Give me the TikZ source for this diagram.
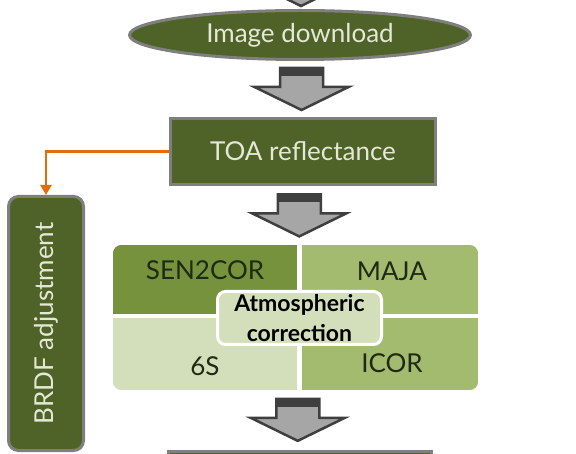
\documentclass[tikz,border=0pt]{standalone}
\usepackage{fontspec}
\setmainfont{Lato}
\usetikzlibrary{shapes.geometric,arrows.meta,calc}

\definecolor{olivedark}{HTML}{4F6228}
\definecolor{olivemid}{HTML}{76923C}
\definecolor{olivelight}{HTML}{A2BB6E}
\definecolor{olivepale}{HTML}{D3DFBA}
\definecolor{boxgray}{HTML}{7F7F7F}
\definecolor{arrowgray}{HTML}{A6A6A6}
\definecolor{arrowdark}{HTML}{3F3F3F}
\definecolor{linkorange}{HTML}{E46C0A}
\definecolor{lighttext}{HTML}{E4E9D6}
\definecolor{methodtext}{HTML}{1F2A14}

\begin{document}
\begin{tikzpicture}[x=1pt,y=-1pt,
  stage/.style={draw=boxgray, line width=3pt, fill=olivedark, text=lighttext, font=\fontsize{26}{30}\selectfont},
  method/.style={text=methodtext, font=\fontsize{26}{30}\selectfont},
  blockarrow/.style={draw=arrowdark, line width=2.5pt, fill=arrowgray, line join=miter}]

\useasboundingbox (0,0) rectangle (576,454);
\clip (0,0) rectangle (576,454);

\node[stage, ellipse, minimum width=341pt, minimum height=49pt] (download) at (300,35) {Image download};
\node[stage, minimum width=265pt, minimum height=66pt] (toa) at (303,151.5) {TOA reflectance};
\node[stage, rounded corners=10pt, minimum width=75pt, minimum height=254pt] (brdf) at (46,323.5) {\rotatebox{90}{BRDF adjustment}};
\node[stage, minimum width=263pt, minimum height=66pt, anchor=north] (next) at (300,449.5) {};

% the four methods
\node[inner sep=0pt, minimum width=365pt, minimum height=145pt] (block) at (295.5,317.5) {};
\begin{scope}
\clip[rounded corners=9pt] (block.north west) rectangle (block.south east);
\fill[olivemid] (113,245) rectangle (297,314);
\fill[olivelight] (302,245) rectangle (478,314);
\fill[olivepale] (113,318) rectangle (297,390);
\fill[olivelight] (302,318) rectangle (478,390);
\end{scope}

\node[method] (sen) at (205,270) {SEN2COR};
\node[method] (maja) at (392,271) {MAJA};
\node[method] (six) at (205,366) {6S};
\node[method] (icor) at (392,363) {ICOR};
\node[draw=white, line width=3pt, fill=olivepale, rounded corners=8pt, minimum width=164pt, minimum height=53pt,
  align=center, inner sep=0pt, font=\bfseries\fontsize{23}{30}\selectfont] (atm) at (299.5,318) {Atmospheric\\correction};

\draw[linkorange, line width=2.5pt, -{Triangle[length=10pt,width=11pt]}] (toa.west) -| (brdf.north);

% block arrows between the stages
\coordinate (a0) at (301,-15);
\coordinate (a1) at ($(download.south)!0.5!(toa.north)$);
\coordinate (a2) at ($(toa.south)!0.5!(block.north)$);
\coordinate (a3) at ($(block.south)!0.5!(next.north)$);
\foreach \a in {a0,a1,a2,a3}{
  \draw[blockarrow] ($(\a)+(-21.5,-21)$) -- ($(\a)+(21.5,-21)$) -- ($(\a)+(21.5,-2)$) -- ($(\a)+(47,-2)$)
    -- ($(\a)+(0,21)$) -- ($(\a)+(-47,-2)$) -- ($(\a)+(-21.5,-2)$) -- cycle;
  \fill[arrowdark] ($(\a)+(-21.5,-21)$) rectangle ($(\a)+(21.5,-13)$);
}
\end{tikzpicture}
\end{document}
